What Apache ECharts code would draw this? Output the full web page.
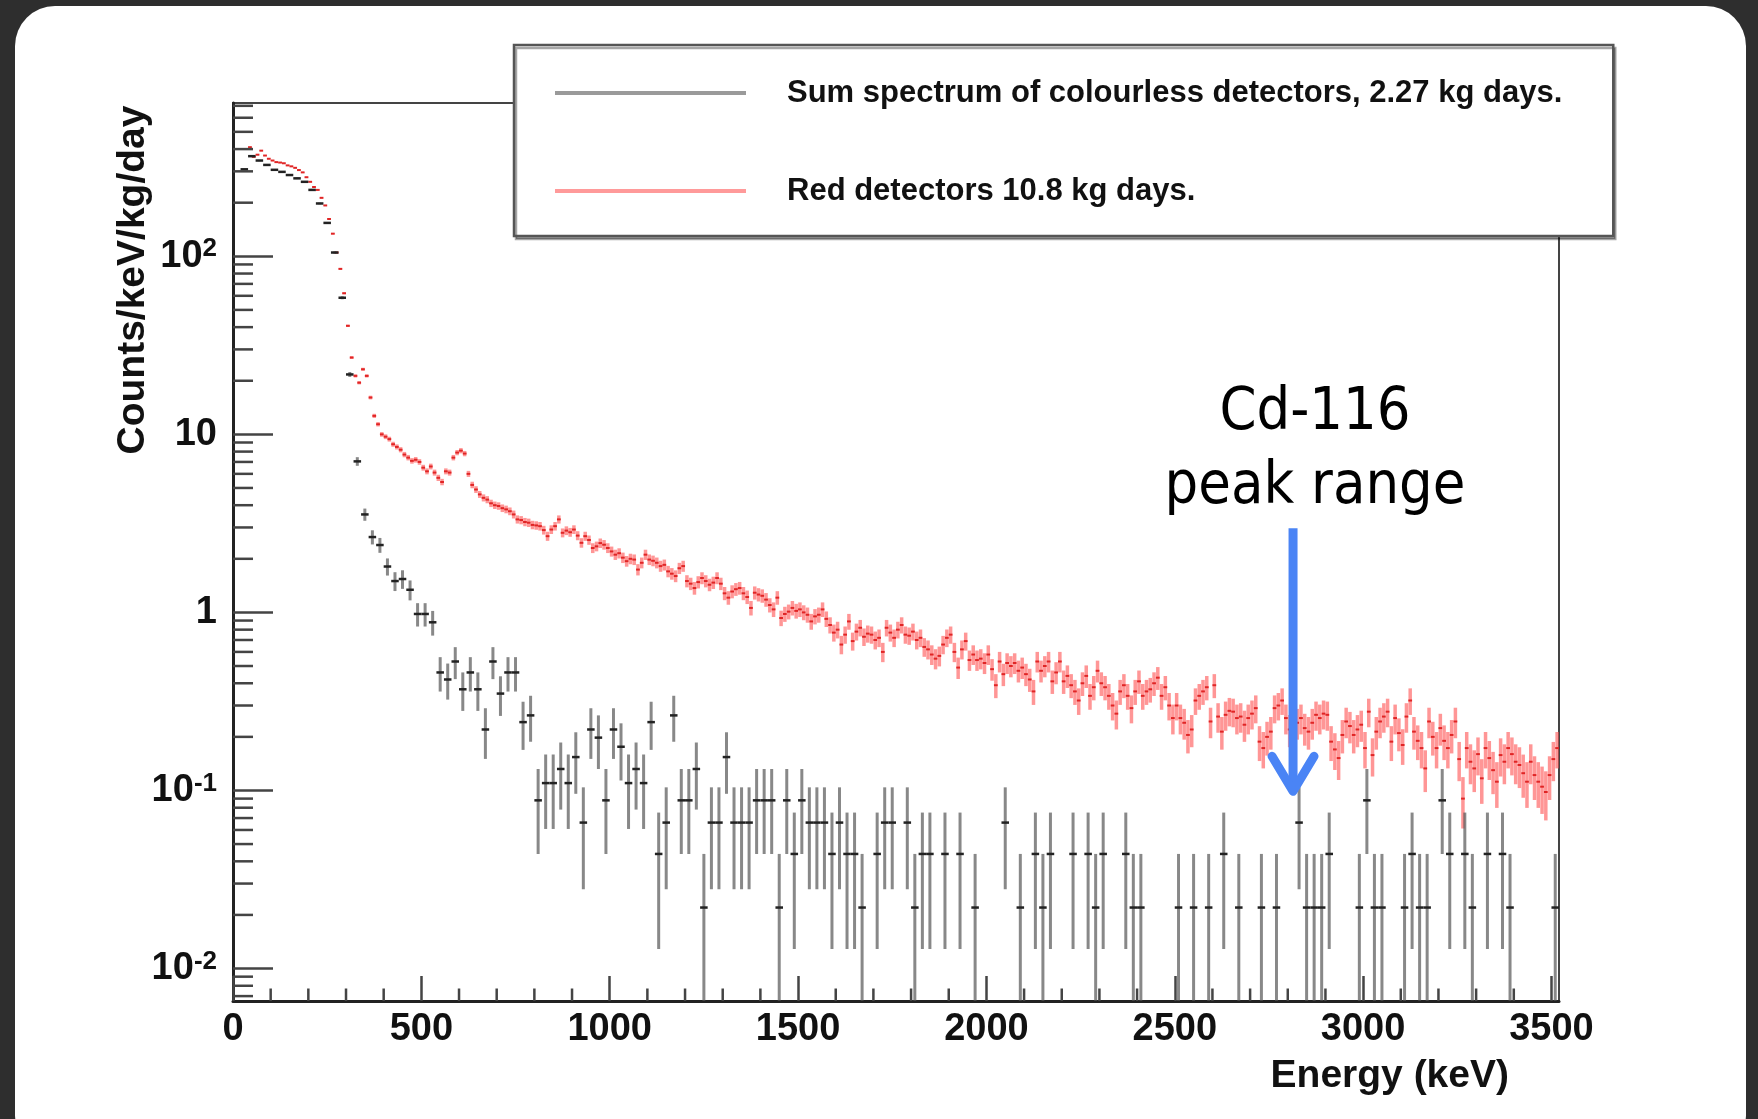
<!DOCTYPE html>
<html>
<head>
<meta charset="utf-8">
<script src="https://cdn.jsdelivr.net/npm/echarts@6/dist/echarts.min.js"></script>
<style>
html,body{margin:0;padding:0;width:1758px;height:1119px;overflow:hidden;background:#2e2e2e;}
#card{position:absolute;left:15px;top:6px;width:1731px;height:1150px;background:#fff;border-radius:40px;}
#chart{position:absolute;left:0;top:0;width:1758px;height:1119px;}
</style>
</head>
<body>
<div id="card"></div>
<div id="chart"></div>
<script>
// ---------------- data ----------------
const SERIES_NAMES = ['Sum spectrum of colourless detectors, 2.27 kg days.', 'Red detectors 10.8 kg days.'];
const BLACK_EXPOSURE = 2.27;   // kg days
const RED_EXPOSURE = 10.8;     // kg days
const BLACK_BIN_START = 10, BLACK_BIN_WIDTH = 20;   // keV
const RED_BIN_START = 5, RED_BIN_WIDTH = 10;         // keV

// colourless detectors, counts/keV/kg/day per 20 keV bin (0 = empty bin)
const blackValues = [
  0,308,365,345,326,
  306,298,286,274,262,
  236,198,154,105,58.5,
  21.7,7.05,3.55,2.65,2.39,
  1.81,1.50,1.54,1.34,0.98,
  0.98,0.88,0.46,0.42,0.53,
  0.37,0.46,0.37,0.22,0.53,
  0.35,0.46,0.46,0.242,0.264,
  0.088,0.110,0.110,0.132,0.110,
  0.154,0.066,0.220,0.198,0.088,
  0.220,0.176,0.110,0.132,0.110,
  0.242,0.044,0.066,0.264,0.088,
  0.088,0.132,0.022,0.066,0.066,
  0.154,0.066,0.066,0.066,0.088,
  0.088,0.088,0.022,0.088,0.044,
  0.088,0.066,0.066,0.066,0.044,
  0.066,0.044,0.044,0.022,0,
  0.044,0.066,0.066,0,0.066,
  0.022,0.044,0.044,0,0.044,
  0,0.044,0,0.022,0,
  0,0,0.066,0,0.022,
  0,0.044,0.022,0.044,0,
  0,0.044,0,0.044,0.022,
  0.044,0,0,0.044,0.022,
  0.022,0,0,0,0,
  0.022,0,0.022,0,0.022,
  0,0.044,0,0.022,0,
  0,0.022,0,0.022,0,
  0,0.066,0.022,0.022,0.022,
  0.044,0,0,0,0.022,
  0.088,0.022,0.022,0,0,
  0.022,0.044,0.022,0.022,0,
  0.088,0.044,0,0.044,0.022,
  0,0.044,0,0.044,0.022,
  0,0,0,0,0,
  0.022
];

// red detectors, counts/keV/kg/day per 10 keV bin (null = below threshold)
const redValues = [
  null,null,null,null,410,362,372,392,368,353,
  345,338,336,333,324,320,314,305,296,278,
  262,245,236,213,193,162,134,105,85,62,
  40.7,27,21.3,19.5,23.2,21.3,16.1,12.7,11.4,10.0,
  9.7,9.4,8.8,8.5,8.2,7.7,7.4,7.1,7.2,7.0,
  6.5,6.2,6.6,6.1,5.7,5.4,6.2,6.1,7.4,7.9,
  8.1,7.8,6.0,5.2,4.9,4.6,4.4,4.3,4.1,4.0,
  3.96,3.85,3.79,3.7,3.55,3.33,3.3,3.22,3.19,3.1,
  3.08,3.05,2.9,2.68,2.92,3.05,3.33,2.8,2.88,2.82,
  2.92,2.7,2.46,2.68,2.55,2.30,2.35,2.45,2.4,2.3,
  2.2,2.11,2.15,2.03,1.94,2.0,1.98,1.74,1.9,2.11,
  1.98,1.95,1.9,1.82,1.85,1.7,1.65,1.6,1.77,1.82,
  1.50,1.45,1.37,1.48,1.56,1.50,1.43,1.47,1.56,1.45,
  1.28,1.21,1.31,1.35,1.37,1.28,1.22,1.06,1.29,1.26,
  1.24,1.18,1.10,1.04,1.21,0.93,0.98,1.01,1.06,1.02,
  1.04,1.00,0.97,0.89,0.95,0.97,1.04,0.92,0.85,0.77,
  0.80,0.66,0.75,0.89,0.69,0.78,0.82,0.73,0.76,0.75,
  0.70,0.72,0.60,0.82,0.77,0.72,0.80,0.85,0.75,0.74,
  0.78,0.70,0.72,0.64,0.62,0.58,0.55,0.57,0.66,0.72,
  0.75,0.60,0.49,0.62,0.69,0.54,0.58,0.54,0.55,0.52,
  0.58,0.48,0.39,0.53,0.45,0.52,0.50,0.52,0.47,0.49,
  0.45,0.42,0.36,0.53,0.47,0.50,0.53,0.41,0.46,0.53,
  0.41,0.44,0.39,0.36,0.32,0.40,0.44,0.34,0.38,0.47,
  0.40,0.38,0.34,0.30,0.27,0.36,0.39,0.34,0.29,0.36,
  0.41,0.34,0.36,0.37,0.40,0.43,0.34,0.38,0.30,0.255,
  0.30,0.255,0.24,0.205,0.22,0.32,0.34,0.36,0.38,0.244,
  0.39,0.26,0.214,0.266,0.28,0.277,0.255,0.26,0.234,0.255,
  0.27,0.29,0.188,0.173,0.20,0.214,0.29,0.30,0.32,0.255,
  0.22,0.214,0.24,0.255,0.224,0.214,0.24,0.266,0.255,0.27,
  0.266,0.188,0.17,0.152,0.205,0.244,0.23,0.205,0.22,0.234,
  0.173,0.277,0.158,0.214,0.244,0.26,0.277,0.188,0.255,0.21,
  0.180,0.26,0.32,0.214,0.19,0.173,0.133,0.244,0.20,0.173,
  0.224,0.19,0.173,0.205,0.244,0.15,0.090,0.173,0.145,0.133,
  0.16,0.117,0.173,0.152,0.13,0.112,0.158,0.145,0.173,0.16,
  0.145,0.139,0.125,0.112,0.145,0.122,0.112,0.105,0.098,0.122,
  0.15,0.173
];

// axis ranges and ticks
const X_MIN = 0, X_MAX = 3520, X_MAJOR = 500, X_MINOR = 100;
const Y_MIN = 0.00657, Y_MAX = 726;
const yDecadeLabels = { '-2': ['10', '-2'], '-1': ['10', '-1'], '0': ['1', ''], '1': ['10', ''], '2': ['10', '2'] };

// annotation: Cd-116 double beta Q value
const annotationText = ['Cd-116', 'peak range'];
const annotationArrow = { energy: 2814, from: 2.97, to: 0.0964 };

// ---------------- build series data ----------------
function toErrorData(values, start, width, exposure) {
  const out = [];
  values.forEach(function (v, i) {
    if (v == null || v <= 0) return;
    const e = Math.sqrt(v / (exposure * width));
    out.push([start + i * width, v, v - e, v + e]);
  });
  return out;
}
const blackData = toErrorData(blackValues, BLACK_BIN_START, BLACK_BIN_WIDTH, BLACK_EXPOSURE);
const redData = toErrorData(redValues, RED_BIN_START, RED_BIN_WIDTH, RED_EXPOSURE);

const yMinorTicks = [];
for (let e = -3; e <= 2; e++) {
  for (let m = 2; m <= 9; m++) {
    const v = m * Math.pow(10, e);
    if (v > Y_MIN && v < Y_MAX) yMinorTicks.push([X_MIN, v]);
  }
}
const xMinorTicks = [];
for (let v = X_MINOR; v < X_MAX; v += X_MINOR) {
  if (v % X_MAJOR !== 0) xMinorTicks.push([v, Y_MIN]);
}

function errorBarRenderer(binW, barColor, barWidth, markColor, markWidth) {
  return function (params, api) {
    const x = api.value(0), v = api.value(1), lo = api.value(2), hi = api.value(3);
    const top = api.coord([x, Math.min(hi, Y_MAX)]);
    const bot = api.coord([x, Math.max(lo, Y_MIN)]);
    const l = api.coord([x - binW / 2, v]);
    const r = api.coord([x + binW / 2, v]);
    return {
      type: 'group',
      children: [
        { type: 'line', shape: { x1: top[0], y1: top[1], x2: bot[0], y2: bot[1] }, style: { stroke: barColor, lineWidth: barWidth } },
        { type: 'line', shape: { x1: l[0], y1: l[1], x2: r[0], y2: r[1] }, style: { stroke: markColor, lineWidth: markWidth } }
      ]
    };
  };
}

const FONT = '"Liberation Sans", Arial, Helvetica, sans-serif';
const chart = echarts.init(document.getElementById('chart'), null, { renderer: 'canvas' });

const option = {
  backgroundColor: 'transparent',
  animation: false,
  grid: { left: 233, top: 103, width: 1326, height: 898, show: true, borderColor: '#444', borderWidth: 2, backgroundColor: 'transparent' },
  legend: {
    orient: 'vertical', left: 514, top: 45,
    padding: [28, 51, 25, 41],
    itemWidth: 191, itemHeight: 4, itemGap: 58,
    backgroundColor: '#fff', borderColor: '#555', borderWidth: 2.5,
    shadowColor: 'rgba(0,0,0,0.35)', shadowOffsetX: 2, shadowOffsetY: 3, shadowBlur: 0,
    selectedMode: false,
    textStyle: { fontFamily: FONT, fontWeight: 'bold', fontSize: 31, color: '#111', padding: [0, 0, 0, 36], lineHeight: 40 },
    data: [
      { name: SERIES_NAMES[0], icon: 'rect', itemStyle: { color: '#9a9a9a' } },
      { name: SERIES_NAMES[1], icon: 'rect', itemStyle: { color: '#ff9a9a' } }
    ]
  },
  xAxis: {
    type: 'value', min: X_MIN, max: X_MAX, interval: X_MAJOR,
    axisLine: { show: true, lineStyle: { color: '#222', width: 3 } },
    axisTick: { show: true, inside: true, length: 25, lineStyle: { color: '#444', width: 2.5 } },
    splitLine: { show: false },
    axisLabel: {
      show: true, showMaxLabel: false, margin: 10, fontFamily: FONT, fontWeight: 'bold', fontSize: 38, color: '#111',
      formatter: function (v) { return String(v); }
    }
  },
  yAxis: {
    type: 'log', logBase: 10, min: Y_MIN, max: Y_MAX,
    axisLine: { show: true, lineStyle: { color: '#222', width: 3 } },
    axisTick: { show: true, inside: true, length: 40, lineStyle: { color: '#444', width: 2.5 } },
    splitLine: { show: false },
    axisLabel: {
      show: true, showMinLabel: false, showMaxLabel: false, margin: 16,
      fontFamily: FONT, fontWeight: 'bold', fontSize: 38, color: '#111',
      formatter: function (v) {
        const e = String(Math.round(Math.log10(v)));
        const lab = yDecadeLabels[e];
        if (!lab) return '';
        return lab[1] ? lab[0] + '{sup|' + lab[1] + '}' : lab[0];
      },
      rich: { sup: { fontFamily: FONT, fontWeight: 'bold', fontSize: 26, color: '#111', verticalAlign: 'top', padding: [0, 0, 14, 0] } }
    }
  },
  series: [
    {
      name: SERIES_NAMES[1], type: 'custom', clip: true, z: 3,
      encode: { x: 0, y: 1 },
      data: redData,
      renderItem: errorBarRenderer(RED_BIN_WIDTH, 'rgba(255,85,85,0.62)', 3.5, '#e02525', 2)
    },
    {
      name: SERIES_NAMES[0], type: 'custom', clip: true, z: 4,
      encode: { x: 0, y: 1 },
      data: blackData,
      renderItem: errorBarRenderer(BLACK_BIN_WIDTH, 'rgba(80,80,80,0.68)', 3, '#222', 2.5)
    },
    {
      name: 'yMinorTicks', type: 'custom', clip: false, z: 5, silent: true,
      data: yMinorTicks,
      renderItem: function (params, api) {
        const p = api.coord([api.value(0), api.value(1)]);
        return { type: 'line', shape: { x1: p[0], y1: p[1], x2: p[0] + 20, y2: p[1] }, style: { stroke: '#444', lineWidth: 2.5 } };
      }
    },
    {
      name: 'xMinorTicks', type: 'custom', clip: false, z: 5, silent: true,
      data: xMinorTicks,
      renderItem: function (params, api) {
        const p = api.coord([api.value(0), api.value(1)]);
        return { type: 'line', shape: { x1: p[0], y1: p[1], x2: p[0], y2: p[1] - 12.5 }, style: { stroke: '#444', lineWidth: 2.5 } };
      }
    },
    {
      name: 'arrow', type: 'custom', clip: false, z: 10, silent: true,
      data: [[annotationArrow.energy, annotationArrow.from, annotationArrow.to]],
      renderItem: function (params, api) {
        const top = api.coord([api.value(0), api.value(1)]);
        const tip = api.coord([api.value(0), api.value(2)]);
        const col = '#4a84f5';
        return {
          type: 'group',
          children: [
            { type: 'line', shape: { x1: top[0], y1: top[1], x2: tip[0], y2: tip[1] - 6 }, style: { stroke: col, lineWidth: 9 } },
            { type: 'polyline', shape: { points: [[tip[0] - 21, tip[1] - 37], [tip[0], tip[1] - 2], [tip[0] + 21, tip[1] - 37]] }, style: { stroke: col, lineWidth: 9, lineCap: 'round', lineJoin: 'round', fill: null } }
          ]
        };
      }
    }
  ],
  graphic: [
    { type: 'text', x: 133.5, y: 280, rotation: Math.PI / 2, z: 20,
      style: { text: 'Counts/keV/kg/day', fontFamily: FONT, fontWeight: 'bold', fontSize: 39, fill: '#111', align: 'center', verticalAlign: 'middle' } },
    { type: 'text', x: 1509, y: 1076, z: 20,
      style: { text: 'Energy (keV)', fontFamily: FONT, fontWeight: 'bold', fontSize: 39, fill: '#111', align: 'right', verticalAlign: 'middle' } },
    { type: 'text', x: 1315, y: 414, z: 20,
      style: { text: annotationText[0], fontFamily: '"DejaVu Sans Condensed", "DejaVu Sans", sans-serif', fontSize: 59, fill: '#000', align: 'center', verticalAlign: 'middle' } },
    { type: 'text', x: 1315, y: 488, z: 20,
      style: { text: annotationText[1], fontFamily: '"DejaVu Sans Condensed", "DejaVu Sans", sans-serif', fontSize: 59, fill: '#000', align: 'center', verticalAlign: 'middle' } }
  ]
};
chart.setOption(option);
</script>
</body>
</html>
